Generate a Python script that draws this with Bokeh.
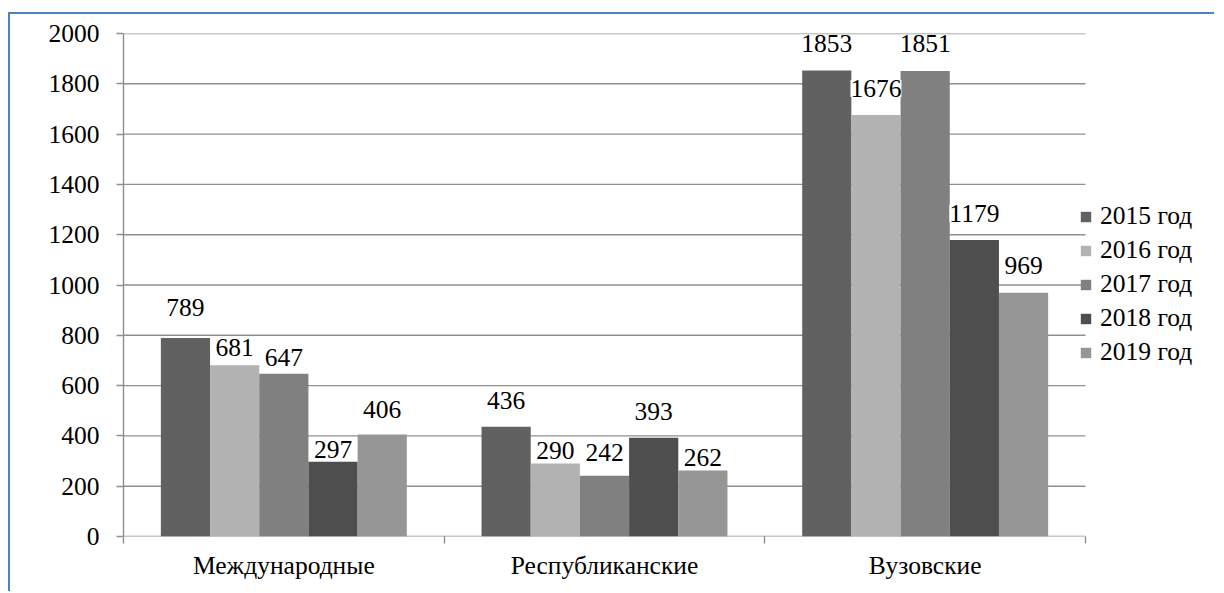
from bokeh.plotting import figure
from bokeh.models import (ColumnDataSource, Range1d, FixedTicker, Legend, LegendItem,
                          LabelSet)
from bokeh.core.properties import value
from bokeh.embed import file_html
from bokeh.resources import INLINE

# ---- data ----
categories = ["Международные", "Республиканские", "Вузовские"]
series_names = ["2015 год", "2016 год", "2017 год", "2018 год", "2019 год"]
v2015 = [789, 436, 1853]
v2016 = [681, 290, 1676]
v2017 = [647, 242, 1851]
v2018 = [297, 393, 1179]
v2019 = [406, 262, 969]
series_values = [v2015, v2016, v2017, v2018, v2019]
y_ticks = [0, 200, 400, 600, 800, 1000, 1200, 1400, 1600, 1800, 2000]

# ---- styles ----
colors = ["#616161", "#b2b2b2", "#808080", "#4e4e4e", "#969696"]
# data-label lift above bar top (px), per series, per category
label_lift = [[31, 26.5, 27], [17.5, 13.5, 26.5], [16.5, 23.5, 27],
              [12.5, 26.5, 26.5], [24.5, 13, 27.5]]
FONT = "Liberation Serif"
FS = "25.5px"
GRID = "#8f8f8f"
bar_w = 0.1534
W, LEFT = 1206, 113
PLOT_PX = 962          # pixel width of the category area
FRAME_PX = W - LEFT    # frame runs to the canvas' right edge (legend sits inside it)
n_cat = len(categories)

p = figure(width=W, height=579,
           x_range=Range1d(0, n_cat * FRAME_PX / PLOT_PX), y_range=Range1d(0, 2000),
           output_backend="svg", toolbar_location=None,
           min_border_left=LEFT, min_border_right=0, min_border_top=19, min_border_bottom=57)
p.styles = {"border-top": "2px solid #4f81bd", "border-left": "2px solid #4f81bd",
            "margin-top": "12px", "margin-left": "8px"}
p.outline_line_color = None
p.background_fill_color = "white"
p.border_fill_color = "white"
p.xgrid.visible = False
p.ygrid.visible = False

centers = [i + 0.5 for i in range(n_cat)]
bounds = [float(i) for i in range(n_cat + 1)]

# horizontal gridlines spanning only the category area (y=0 line is the x axis line)
p.segment(x0=[bounds[0]] * len(y_ticks), x1=[bounds[-1]] * len(y_ticks),
          y0=y_ticks, y1=y_ticks, line_color=GRID, line_width=1.4)

# y axis
p.yaxis.ticker = FixedTicker(ticks=y_ticks)
p.yaxis.axis_line_color = GRID
p.yaxis.axis_line_width = 1.4
p.yaxis.major_tick_line_color = GRID
p.yaxis.major_tick_line_width = 1.4
p.yaxis.major_tick_out = 7
p.yaxis.major_tick_in = 0
p.yaxis.minor_tick_line_color = None
p.yaxis.major_label_text_font = FONT
p.yaxis.major_label_text_font_size = FS
p.yaxis.major_label_text_color = "black"
p.yaxis.major_label_standoff = 17

# x axis
p.xaxis.ticker = FixedTicker(ticks=centers, minor_ticks=bounds)
p.xaxis.major_label_overrides = {c: n for c, n in zip(centers, categories)}
p.xaxis.axis_line_color = None
p.xaxis.major_tick_line_color = None
p.xaxis.major_tick_out = 0
p.xaxis.major_tick_in = 0
p.xaxis.minor_tick_line_color = GRID
p.xaxis.minor_tick_line_width = 1.4
p.xaxis.minor_tick_out = 7
p.xaxis.minor_tick_in = 0
p.xaxis.major_label_text_font = FONT
p.xaxis.major_label_text_font_size = FS
p.xaxis.major_label_text_color = "black"
p.xaxis.major_label_standoff = 7

items = []
lx, ly, lt, lo = [], [], [], []
n = len(series_values)
for i, (name, vals) in enumerate(zip(series_names, series_values)):
    xs = [c + (i - (n - 1) / 2) * bar_w for c in centers]
    src = ColumnDataSource(dict(x=xs, top=vals))
    r = p.vbar(x="x", top="top", width=bar_w, bottom=0, source=src,
               fill_color=colors[i], line_color=None)
    items.append(LegendItem(label=name, renderers=[r]))
    for j, v in enumerate(vals):
        lx.append(xs[j]); ly.append(v); lt.append(str(v)); lo.append(label_lift[i][j])

lsrc = ColumnDataSource(dict(x=lx, y=ly, t=lt, o=lo))
labels = LabelSet(x="x", y="y", text="t", y_offset="o", source=lsrc,
                  text_align="center", text_baseline="middle",
                  text_font=value(FONT), text_font_size=value(FS), text_color="black",
                  background_fill_color="white")
p.add_layout(labels)

legend = Legend(items=items, location=(PLOT_PX - 6, 169))
legend.border_line_color = None
legend.background_fill_alpha = 0
legend.padding = 0
legend.margin = 0
legend.spacing = 4
legend.glyph_width = 13
legend.glyph_height = 13
legend.label_standoff = 8
legend.label_height = 20
legend.label_text_font = FONT
legend.label_text_font_size = FS
legend.label_text_color = "black"
p.add_layout(legend)

open("out.html", "w").write(file_html(p, INLINE))
